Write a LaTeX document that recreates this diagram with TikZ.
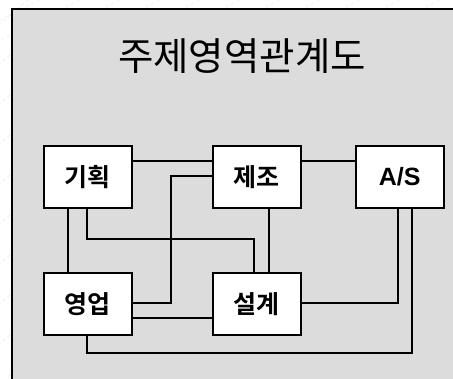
\documentclass[tikz,border=0pt]{standalone}
\usepackage{fontspec}
\setmainfont{Liberation Sans}
\newfontfamily\kr{Noto Sans CJK KR}
\newfontfamily\krb{Noto Sans CJK KR Bold}
\begin{document}
\begin{tikzpicture}[x=1pt,y=-1pt,
  box/.style={draw=black,line width=1.5pt,fill=white,minimum width=88pt,minimum height=62pt,inner sep=0pt,anchor=north west,font=\krb\fontsize{25}{28}\selectfont},
  conn/.style={line width=1.4pt,black}]
\useasboundingbox (0,0) rectangle (453,378);
% faint background
\begin{scope}
\clip (0,0) rectangle (453,378);
\foreach \i in {0,40,...,480}{
  \draw[black!12,dashed,line width=0.4pt] (\i-60,50) -- (\i+60,-10);
  \draw[black!12,dashed,line width=0.4pt] (-20,\i+40) -- (40,\i-10);
}
\end{scope}
\fill[fill={rgb,255:red,220;green,220;blue,220}] (12,9) rectangle (455,380);
\draw[line width=1.6pt] (12,380) -- (12,9) -- (455,9);
\node[font=\kr\fontsize{38.5}{44}\selectfont] (title) at (242,56) {주제영역관계도};
\node[box] (gh) at (43,145) {기획};
\node[box] (jj) at (212,145) {제조};
\node[box] (as) at (355,145) {\normalfont\bfseries\fontsize{25}{28}\selectfont A/S};
\node[box] (yu) at (43,272) {영업};
\node[box] (sg) at (212,272) {설계};
\coordinate (c1) at (87,239);
\coordinate (c2) at (254,239);
\coordinate (c3) at (171,303);
\coordinate (c4) at (171,176);
\coordinate (c5) at (87,353);
\coordinate (c6) at (412,353);
\coordinate (c7) at (398,303);
\draw[conn] (gh.east |- 0,161) -- (jj.west |- 0,161);
\draw[conn] (jj.east |- 0,161) -- (as.west |- 0,161);
\draw[conn] (gh.south -| 68,0) -- (yu.north -| 68,0);
\draw[conn] (gh.south -| c1) -- (c1) -- (c2) -- (sg.north -| c2);
\draw[conn] (yu.east |- c3) -- (c3) -- (c4) -- (jj.west |- c4);
\draw[conn] (yu.east |- 0,318) -- (sg.west |- 0,318);
\draw[conn] (yu.south -| c5) -- (c5) -- (c6) -- (as.south -| c6);
\draw[conn] (jj.south -| 269,0) -- (sg.north -| 269,0);
\draw[conn] (sg.east |- c7) -- (c7) -- (as.south -| c7);
\end{tikzpicture}
\end{document}
